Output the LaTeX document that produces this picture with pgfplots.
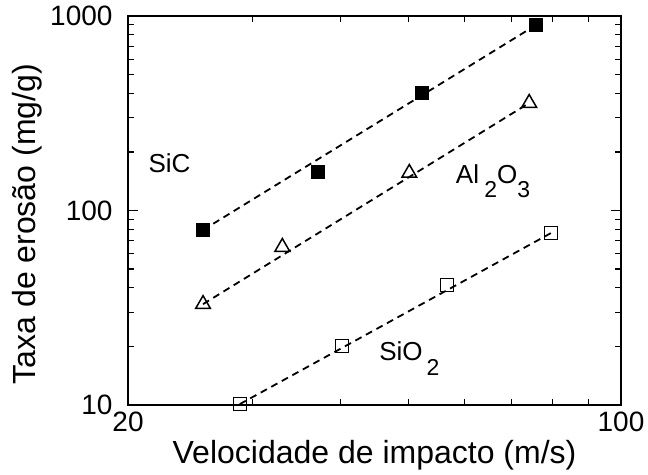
\documentclass[border=0pt]{standalone}
\usepackage{pgfplots}
\pgfplotsset{compat=1.18}
\usepackage{fontspec}
\setmainfont{Liberation Sans}
\begin{document}
\begin{tikzpicture}
\path (-128pt,-69pt) rectangle (520pt,405pt);
\begin{axis}[
 xmode=log, ymode=log,
 scale only axis, width=493pt, height=389pt,
 xmin=20, xmax=100, ymin=10, ymax=1000,
 xtick={20,100}, xticklabels={20,100},
 minor xtick={30,40,50,60,70,80,90},
 ytick={10,100,1000}, yticklabels={10,100,1000},
 minor ytick={20,30,40,50,60,70,80,90,200,300,400,500,600,700,800,900},
 tick align=inside, major tick length=10pt, minor tick length=6pt,
 axis line style={line width=1.6pt},
 tick style={line width=1.2pt, black},
 every tick label/.append style={font=\fontsize{28}{33}\selectfont},
 yticklabel style={xshift=-12pt},
 xticklabel style={yshift=-3pt},
 xlabel={Velocidade de impacto (m/s)}, ylabel={Taxa de erosão (mg/g)},
 label style={font=\fontsize{32}{38}\selectfont},
 xlabel style={at={(axis description cs:0.5,-0.1285)}, anchor=center},
 ylabel style={at={(axis description cs:-0.205,0.465)}, anchor=center},
 clip=false,
 /pgf/number format/assume math mode=true,
]
% fitted dashed lines
\addplot[black, line width=1.8pt, dash pattern=on 7pt off 5pt] coordinates {(25.55,79.4) (75.8,899)};
\addplot[black, line width=1.8pt, dash pattern=on 7pt off 5pt] coordinates {(25.55,33.0) (74.1,357)};
\addplot[black, line width=1.8pt, dash pattern=on 7pt off 5pt] coordinates {(28.8,10.1) (79.6,76.6)};
% SiC
\addplot[only marks, mark=square*, mark size=6.5pt, black] coordinates {
 (25.55,79.4) (37.2,157.8) (52.2,402) (75.8,899)};
% Al2O3
\addplot[only marks, mark=triangle, mark size=8.5pt, black, mark options={fill=white, line width=1.5pt}] coordinates {
 (25.55,33.0) (33.1,64.9) (50.1,155.9) (74.1,357)};
% SiO2
\addplot[only marks, mark=square, mark size=6.5pt, black, mark options={fill=white, line width=1.4pt}] coordinates {
 (28.8,10.1) (40.2,20.1) (56.7,41.4) (79.6,76.6)};
\node[font=\fontsize{26}{30}\selectfont] at (axis cs:22.9,175) {SiC};
\node[font=\fontsize{26}{30}\selectfont, anchor=base west, inner sep=0pt] at (axis cs:58.3,138.4) {Al\hspace{0.2em}\raisebox{-0.55em}{\fontsize{23}{26}\selectfont 2}O\raisebox{-0.55em}{\fontsize{23}{26}\selectfont 3}};
\node[font=\fontsize{26}{30}\selectfont, anchor=base west, inner sep=0pt] at (axis cs:45.4,17.0) {SiO\hspace{0.15em}\raisebox{-0.6em}{\fontsize{23}{26}\selectfont 2}};
\end{axis}
\end{tikzpicture}
\end{document}
